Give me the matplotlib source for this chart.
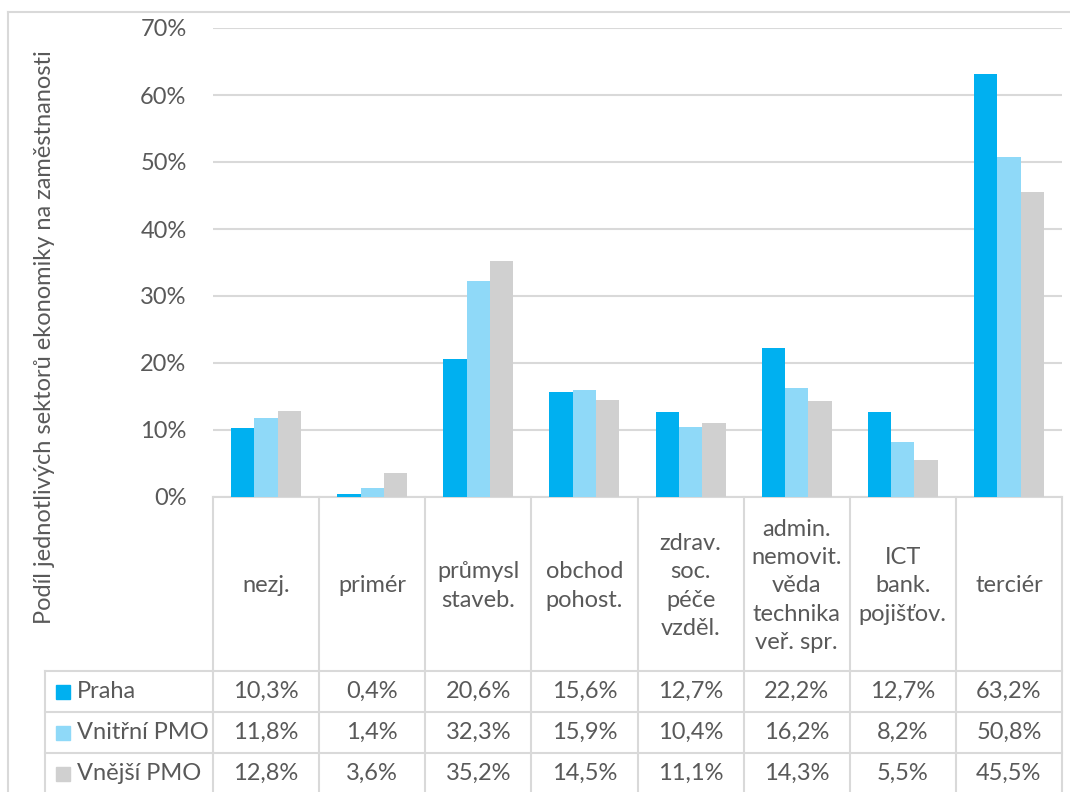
import numpy as np
import matplotlib
matplotlib.use("Agg")
import matplotlib.pyplot as plt
from matplotlib.patches import Rectangle
from matplotlib.transforms import blended_transform_factory

categories = ["nezj.", "primér", "průmysl\nstaveb.", "obchod\npohost.",
              "zdrav.\nsoc.\npéče\nvzděl.", "admin.\nnemovit.\nvěda\ntechnika\nveř. spr.",
              "ICT\nbank.\npojišťov.", "terciér"]
series_names = ["Praha", "Vnitřní PMO", "Vnější PMO"]
praha = [10.3, 0.4, 20.6, 15.6, 12.7, 22.2, 12.7, 63.2]
vnitrni = [11.8, 1.4, 32.3, 15.9, 10.4, 16.2, 8.2, 50.8]
vnejsi = [12.8, 3.6, 35.2, 14.5, 11.1, 14.3, 5.5, 45.5]
colors = ["#00B0F0", "#8FD9F8", "#D0D0D0"]
y_label = "Podíl jednotlivých sektorů ekonomiky na zaměstnanosti"

TXT = "#595959"
GRID = "#D9D9D9"
plt.rcParams["font.family"] = ["Lato", "DejaVu Sans"]
FS = 17

W, H = 1070, 792
fig = plt.figure(figsize=(W / 100, H / 100), dpi=100)

# overlay in pixel coordinates for the frame and the data table
ov = fig.add_axes([0, 0, 1, 1])
ov.set_xlim(0, W)
ov.set_ylim(H, 0)
ov.axis("off")

# plot area
ax = fig.add_axes([213 / W, 1 - 497 / H, (1062 - 213) / W, (497 - 28) / H])
ax.set_xlim(0, len(categories))
ax.set_ylim(0, 70)

data = [praha, vnitrni, vnejsi]
bw = 0.22
x = np.arange(len(categories)) + 0.5
for k, vals in enumerate(data):
    ax.bar(x + (k - 1) * bw, vals, width=bw, color=colors[k], zorder=3)

ax.set_yticks(np.arange(0, 71, 10))
ax.set_yticklabels([f"{v}%" for v in range(0, 71, 10)], fontsize=FS, color=TXT)
ax.tick_params(axis="y", length=0, pad=19)
ax.set_xticks([])
ax.grid(axis="y", color=GRID, linewidth=1.5, zorder=0)
for s in ["top", "right", "left"]:
    ax.spines[s].set_visible(False)
ax.spines["bottom"].set_color(GRID)
ax.spines["bottom"].set_linewidth(1.5)
ax.patch.set_alpha(0)

# chart frame
ov.plot([8, W], [12, 12], color=GRID, lw=1.5)
ov.plot([8, 8], [12, H], color=GRID, lw=1.5)

# data table
tr = blended_transform_factory(ax.transData, ov.transData)
header_top, header_bot = 497, 671
row_h = 41
n = len(categories)
for i in range(n + 1):
    ov.plot([i, i], [header_top, H], color=GRID, lw=1.5, transform=tr)
ov.plot([45, 45], [header_bot, H], color=GRID, lw=1.5)
for r in range(3):
    yy = header_bot + r * row_h
    ov.plot([45, 213], [yy, yy], color=GRID, lw=1.5)
    ov.plot([0, n], [yy, yy], color=GRID, lw=1.5, transform=tr)

for i, cat in enumerate(categories):
    ov.text(i + 0.5, (header_top + header_bot) / 2 + 2, cat, transform=tr,
            ha="center", va="center", fontsize=FS, color=TXT, linespacing=1.42)

for r, (name, vals) in enumerate(zip(series_names, data)):
    yc = header_bot + r * row_h + row_h / 2
    ov.add_patch(Rectangle((56, yc - 7), 14, 14, color=colors[r]))
    ov.text(77, yc, name, ha="left", va="center", fontsize=FS, color=TXT)
    for i, v in enumerate(vals):
        ov.text(i + 0.5, yc, f"{v:.1f}%".replace(".", ","), transform=tr,
                ha="center", va="center", fontsize=FS, color=TXT)

fig.text(45 / W, 1 - 337 / H, y_label, rotation=90, ha="center", va="center",
         fontsize=FS, color=TXT)

fig.savefig("out.png", dpi=100, facecolor="white")
